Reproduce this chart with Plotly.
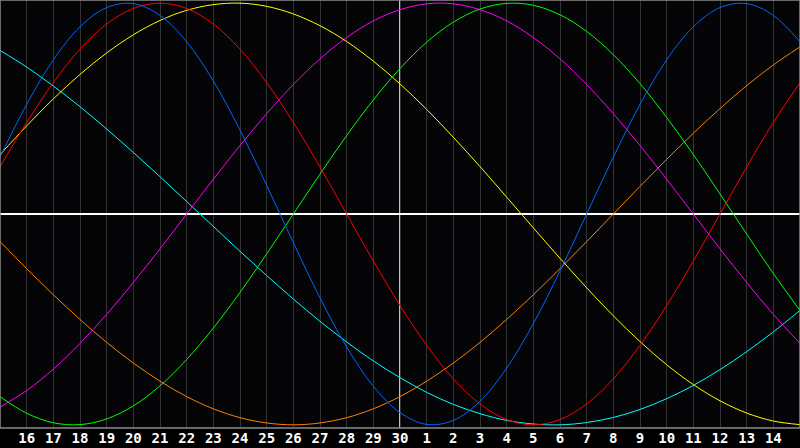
import plotly.graph_objects as go

# Day tick labels (gridline positions 1..29 across the 30-day window)
tick_labels = ["16", "17", "18", "19", "20", "21", "22", "23", "24", "25", "26", "27", "28", "29", "30",
               "1", "2", "3", "4", "5", "6", "7", "8", "9", "10", "11", "12", "13", "14"]
today_label = "30"

# Daily values (day 15 .. day 15 of next month)
physical = [0.270, 0.520, 0.731, 0.888, 0.979, 0.998, 0.942, 0.817, 0.631, 0.398, 0.136, -0.136, -0.398,
            -0.631, -0.817, -0.942, -0.998, -0.979, -0.888, -0.731, -0.520, -0.270, 0.000, 0.270, 0.520,
            0.731, 0.888, 0.979, 0.998, 0.942, 0.817]
emotional = [0.223, 0.434, 0.623, 0.782, 0.901, 0.975, 1.000, 0.975, 0.901, 0.782, 0.623, 0.434, 0.223,
             0.000, -0.223, -0.434, -0.623, -0.782, -0.901, -0.975, -1.000, -0.975, -0.901, -0.782, -0.623,
             -0.434, -0.223, 0.000, 0.223, 0.434, 0.623]
intellectual = [-0.866, -0.945, -0.990, -0.999, -0.972, -0.910, -0.815, -0.690, -0.541, -0.372, -0.189,
                0.000, 0.189, 0.372, 0.541, 0.690, 0.815, 0.910, 0.972, 0.999, 0.990, 0.945, 0.866, 0.756,
                0.618, 0.458, 0.282, 0.095, -0.095, -0.282, -0.458]
intuitive = [-0.916, -0.837, -0.736, -0.614, -0.476, -0.325, -0.165, 0.000, 0.165, 0.325, 0.476, 0.614,
             0.736, 0.837, 0.916, 0.969, 0.997, 0.997, 0.969, 0.916, 0.837, 0.736, 0.614, 0.476, 0.325,
             0.165, 0.000, -0.165, -0.325, -0.476, -0.614]
aesthetic = [0.281, 0.418, 0.546, 0.662, 0.764, 0.850, 0.918, 0.966, 0.993, 1.000, 0.985, 0.949, 0.893,
             0.818, 0.725, 0.617, 0.496, 0.364, 0.225, 0.080, -0.066, -0.210, -0.350, -0.483, -0.605,
             -0.715, -0.809, -0.886, -0.944, -0.982, -0.999]
awareness = [-0.131, -0.259, -0.383, -0.500, -0.609, -0.707, -0.793, -0.866, -0.924, -0.966, -0.991,
             -1.000, -0.991, -0.966, -0.924, -0.866, -0.793, -0.707, -0.609, -0.500, -0.383, -0.259,
             -0.131, 0.000, 0.131, 0.259, 0.383, 0.500, 0.609, 0.707, 0.793]
spiritual = [0.776, 0.697, 0.607, 0.509, 0.403, 0.292, 0.177, 0.059, -0.059, -0.177, -0.292, -0.403,
             -0.509, -0.607, -0.697, -0.776, -0.846, -0.903, -0.947, -0.979, -0.996, -1.000, -0.989,
             -0.965, -0.927, -0.876, -0.813, -0.738, -0.653, -0.559, -0.457]

series = [
    ("Awareness", awareness, "#ff8000"),
    ("Spiritual", spiritual, "#00ffff"),
    ("Intuitive", intuitive, "#ff00ff"),
    ("Aesthetic", aesthetic, "#ffff00"),
    ("Intellectual", intellectual, "#00ff00"),
    ("Emotional", emotional, "#ff0000"),
    ("Physical", physical, "#0066ff"),
]

day_index = list(range(len(physical)))
tick_pos = list(range(1, len(tick_labels) + 1))
today_pos = tick_pos[tick_labels.index(today_label)]

fig = go.Figure()
for name, vals, col in series:
    fig.add_trace(go.Scatter(x=day_index, y=vals, mode="lines", name=name,
                             line=dict(color=col, width=1, shape="spline", smoothing=1.0),
                             hoverinfo="skip"))

# today marker
fig.add_shape(type="line", xref="x", yref="paper", x0=today_pos, x1=today_pos, y0=0, y1=1,
              line=dict(color="#ffffff", width=1.5), layer="below")
# border
fig.add_shape(type="rect", xref="paper", yref="paper", x0=0, x1=1, y0=0, y1=1,
              line=dict(color="#8a8a8a", width=1.5), layer="above")

fig.update_layout(
    width=800, height=448,
    margin=dict(l=0, r=0, t=0, b=20, pad=0),
    paper_bgcolor="#000000",
    plot_bgcolor="#050508",
    showlegend=False,
    xaxis=dict(range=[0, 30], tickvals=tick_pos, ticktext=tick_labels,
               showgrid=True, gridcolor="#333333", gridwidth=1, zeroline=False,
               ticks="", ticklen=0,
               tickfont=dict(color="#ffffff", size=14, family="DejaVu Sans Mono", weight="bold"),
               fixedrange=True, showline=False),
    yaxis=dict(range=[-1.015, 1.015], showgrid=False, showticklabels=False, ticks="",
               zeroline=True, zerolinecolor="#ffffff", zerolinewidth=1.5, fixedrange=True),
)

fig.write_html("out.html", config={"displayModeBar": False},
               post_script="document.body.style.margin='0';document.body.style.background='#000';")
